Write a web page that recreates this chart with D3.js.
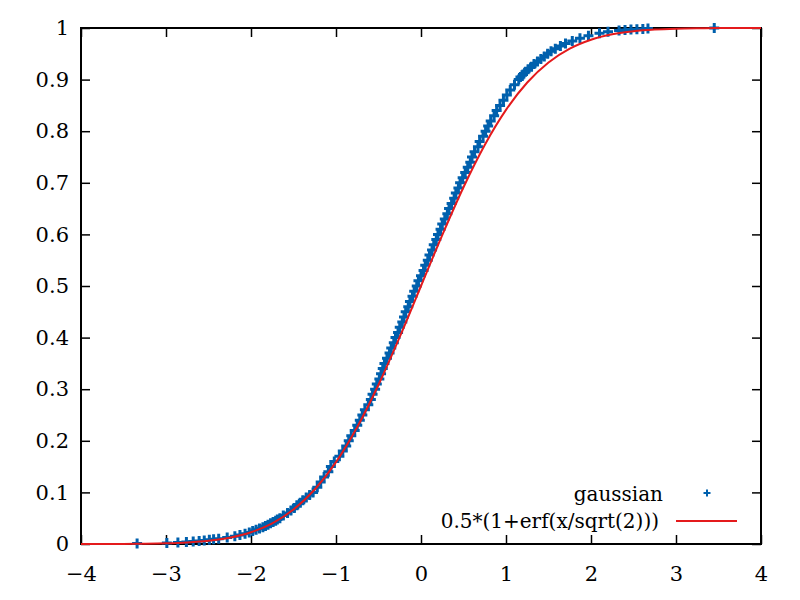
<!DOCTYPE html>
<html>
<head>
<meta charset="utf-8">
<script src="https://cdn.jsdelivr.net/npm/d3@7"></script>
<style>
  body { margin: 0; background: #fff; }
</style>
</head>
<body>
<div id="chart"></div>
<script>
// x tick values and labels
let xTicks = [-4, -3, -2, -1, 0, 1, 2, 3, 4];
let xLabels = ["\u22124", "\u22123", "\u22122", "\u22121", "0", "1", "2", "3", "4"];
let yTicks = [0, 0.1, 0.2, 0.3, 0.4, 0.5, 0.6, 0.7, 0.8, 0.9, 1];
let yLabels = ["0", "0.1", "0.2", "0.3", "0.4", "0.5", "0.6", "0.7", "0.8", "0.9", "1"];

// "gaussian" samples: x and cumulative fraction
let gaussX = [-3.34, -2.99, -2.86, -2.76, -2.68, -2.61, -2.55, -2.49, -2.44, -2.38,
  -2.28, -2.19, -2.13, -2.07, -2.02, -1.98, -1.94, -1.90, -1.86, -1.83,
  -1.80, -1.77, -1.74, -1.71, -1.69, -1.66, -1.62, -1.57, -1.53, -1.49,
  -1.46, -1.42, -1.39, -1.35, -1.31, -1.27, -1.22, -1.18, -1.14, -1.09,
  -1.06, -1.02, -0.96, -0.92, -0.88, -0.85, -0.82, -0.78, -0.75, -0.72,
  -0.69, -0.66, -0.62, -0.59, -0.57, -0.54, -0.52, -0.49, -0.47, -0.45,
  -0.43, -0.40, -0.37, -0.35, -0.32, -0.30, -0.27, -0.25, -0.22, -0.20,
  -0.18, -0.15, -0.13, -0.10, -0.08, -0.05, -0.03, 0.00, 0.03, 0.05,
  0.08, 0.10, 0.13, 0.15, 0.18, 0.20, 0.23, 0.25, 0.28, 0.31,
  0.33, 0.36, 0.39, 0.41, 0.44, 0.46, 0.49, 0.52, 0.55, 0.58,
  0.60, 0.63, 0.67, 0.69, 0.73, 0.76, 0.79, 0.82, 0.86, 0.89,
  0.93, 0.97, 1.01, 1.05, 1.10, 1.15, 1.17, 1.20, 1.23, 1.26,
  1.30, 1.33, 1.37, 1.41, 1.45, 1.49, 1.53, 1.58, 1.64, 1.70,
  1.78, 1.87, 1.97, 2.10, 2.20, 2.33, 2.40, 2.47, 2.54, 2.61,
  2.67, 3.45];
let gaussY = [0.001, 0.002, 0.003, 0.004, 0.005, 0.006, 0.007, 0.008, 0.009, 0.010,
  0.0125, 0.015, 0.0175, 0.020, 0.0225, 0.025, 0.0275, 0.030, 0.0325, 0.035,
  0.0375, 0.040, 0.0425, 0.045, 0.0475, 0.050, 0.055, 0.060, 0.065, 0.070,
  0.075, 0.080, 0.085, 0.090, 0.095, 0.10, 0.11, 0.12, 0.13, 0.14,
  0.15, 0.16, 0.17, 0.18, 0.19, 0.20, 0.21, 0.22, 0.23, 0.24,
  0.25, 0.26, 0.27, 0.28, 0.29, 0.30, 0.31, 0.32, 0.33, 0.34,
  0.35, 0.36, 0.37, 0.38, 0.39, 0.40, 0.41, 0.42, 0.43, 0.44,
  0.45, 0.46, 0.47, 0.48, 0.49, 0.50, 0.51, 0.52, 0.53, 0.54,
  0.55, 0.56, 0.57, 0.58, 0.59, 0.60, 0.61, 0.62, 0.63, 0.64,
  0.65, 0.66, 0.67, 0.68, 0.69, 0.70, 0.71, 0.72, 0.73, 0.74,
  0.75, 0.76, 0.77, 0.78, 0.79, 0.80, 0.81, 0.82, 0.83, 0.84,
  0.85, 0.86, 0.87, 0.88, 0.89, 0.90, 0.905, 0.91, 0.915, 0.92,
  0.925, 0.93, 0.935, 0.94, 0.945, 0.95, 0.955, 0.96, 0.965, 0.97,
  0.975, 0.98, 0.985, 0.99, 0.9925, 0.995, 0.996, 0.997, 0.9975, 0.998,
  0.999, 1.000];

// 0.5*(1+erf(x/sqrt(2))) read at quarter steps
let erfX = [-4, -3.75, -3.5, -3.25, -3, -2.75, -2.5, -2.25, -2, -1.75, -1.5, -1.25, -1, -0.75, -0.5, -0.25,
  0, 0.25, 0.5, 0.75, 1, 1.25, 1.5, 1.75, 2, 2.25, 2.5, 2.75, 3, 3.25, 3.5, 3.75, 4];
let erfY = [0.00003, 0.00009, 0.00023, 0.00058, 0.00135, 0.00298, 0.00621, 0.01222, 0.02275, 0.04006,
  0.06681, 0.10565, 0.15866, 0.22663, 0.30854, 0.40129, 0.5, 0.59871, 0.69146, 0.77337,
  0.84134, 0.89435, 0.93319, 0.95994, 0.97725, 0.98778, 0.99379, 0.99702, 0.99865, 0.99942,
  0.99977, 0.99991, 0.99997];

let seriesNames = ["gaussian", "0.5*(1+erf(x/sqrt(2)))"];
let colors = ["#0060ad", "#e41a1c"];
let font = "DejaVu Serif";

function init() {
    let width = 800, height = 600;
    let left = 81, right = 761, top = 28, bottom = 544;
    let svg = d3.select("#chart").append("svg")
        .attr("width", width)
        .attr("height", height);

    let x = d3.scaleLinear().domain([-4, 4]).range([left, right]);
    let y = d3.scaleLinear().domain([0, 1]).range([bottom, top]);

    // axes, ticks point inward and are mirrored on top/right
    let styleAxis = g => {
        g.attr("font-family", font).attr("font-size", 21);
        g.select(".domain").remove();
        g.selectAll(".tick line").attr("stroke", "#000").attr("stroke-width", 1.5);
        g.selectAll("text").attr("fill", "#000");
    };
    svg.append("g").attr("transform", `translate(0,${bottom})`)
        .call(d3.axisBottom(x).tickValues(xTicks).tickFormat((d, i) => xLabels[i])
            .tickSizeInner(-9).tickSizeOuter(0).tickPadding(22))
        .call(styleAxis);
    svg.append("g").attr("transform", `translate(0,${top})`)
        .call(d3.axisTop(x).tickValues(xTicks).tickFormat("").tickSizeInner(-9).tickSizeOuter(0))
        .call(styleAxis);
    svg.append("g").attr("transform", `translate(${left},0)`)
        .call(d3.axisLeft(y).tickValues(yTicks).tickFormat((d, i) => yLabels[i])
            .tickSizeInner(-9).tickSizeOuter(0).tickPadding(12))
        .call(styleAxis);
    svg.append("g").attr("transform", `translate(${right},0)`)
        .call(d3.axisRight(y).tickValues(yTicks).tickFormat("").tickSizeInner(-9).tickSizeOuter(0))
        .call(styleAxis);

    // frame
    svg.append("rect")
        .attr("x", left).attr("y", top)
        .attr("width", right - left).attr("height", bottom - top)
        .attr("fill", "none").attr("stroke", "#000").attr("stroke-width", 2);

    // + markers
    let plus = (cx, cy, s) => `M${cx - s},${cy}H${cx + s}M${cx},${cy - s}V${cy + s}`;
    let gauss = gaussX.map((d, i) => ({x: d, y: gaussY[i]}));
    svg.append("path")
        .attr("d", gauss.map(d => plus(x(d.x), y(d.y), 5)).join(""))
        .attr("fill", "none")
        .attr("stroke", colors[0])
        .attr("stroke-width", 3);

    // erf curve
    let erf = erfX.map((d, i) => ({x: d, y: erfY[i]}));
    let line = d3.line().x(d => x(d.x)).y(d => y(d.y)).curve(d3.curveMonotoneX);
    svg.append("path")
        .datum(erf)
        .attr("d", line)
        .attr("fill", "none")
        .attr("stroke", colors[1])
        .attr("stroke-width", 2);

    // key
    let key = svg.append("g").attr("font-family", font).attr("font-size", 20);
    key.append("text").attr("x", 663).attr("y", 501).attr("text-anchor", "end").text(seriesNames[0]);
    key.append("path").attr("d", plus(707, 493, 3.5)).attr("stroke", colors[0]).attr("stroke-width", 2);
    key.append("text").attr("x", 659).attr("y", 528).attr("text-anchor", "end").text(seriesNames[1]);
    key.append("line").attr("x1", 676).attr("x2", 737).attr("y1", 521).attr("y2", 521)
        .attr("stroke", colors[1]).attr("stroke-width", 2);
}
window.onload = init;
</script>
</body>
</html>
